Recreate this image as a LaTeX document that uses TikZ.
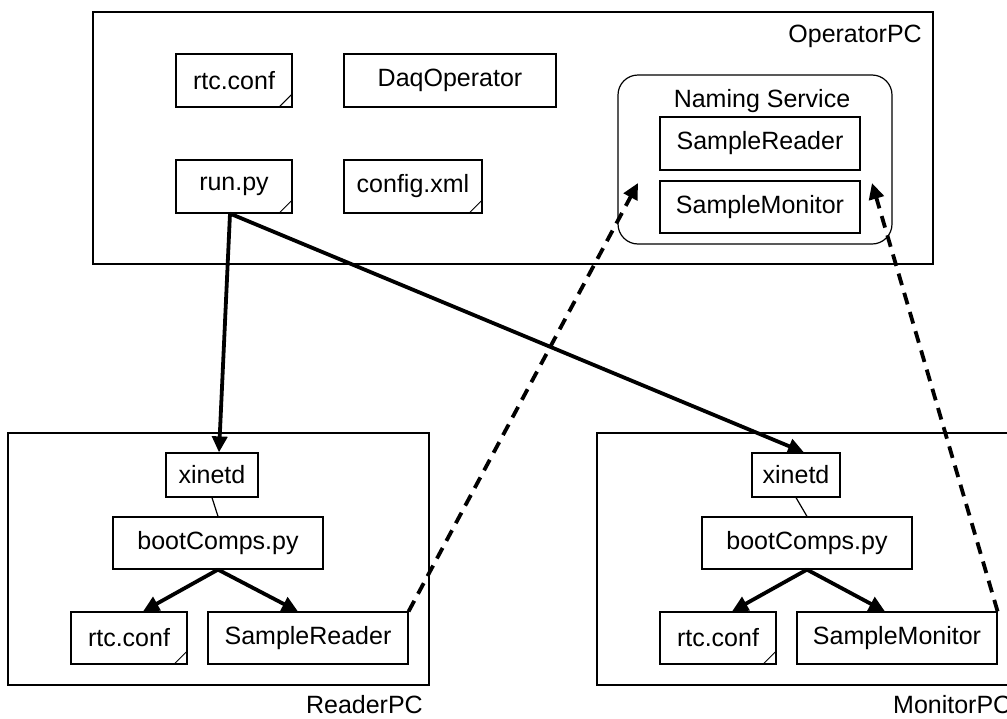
\documentclass[tikz,border=0pt]{standalone}
\usepackage{fontspec}
\setmainfont{Liberation Sans}
\usetikzlibrary{arrows.meta,calc}
\begin{document}
\begin{tikzpicture}[x=1pt,y=-1pt,
  box/.style={draw,line width=1.2pt,inner sep=0pt,font=\fontsize{25}{30}\selectfont},
  lbl/.style={inner sep=0pt,font=\fontsize{25}{30}\selectfont},
  thickarr/.style={line width=3.8pt,-{Triangle[length=16pt,width=15pt]}},
  dasharr/.style={line width=3.8pt,dash pattern=on 12pt off 8pt,-{Triangle[length=16pt,width=15pt]}},
  fold/.style={line width=1pt}]
\useasboundingbox (0,0) rectangle (1007,718);
\clip (0,0) rectangle (1007,718);
% OperatorPC
\node[box,minimum width=840,minimum height=252] (op) at (513,138) {};
\node[lbl,anchor=base east] (oplbl) at (922,42) {OperatorPC};
\node[box,minimum width=116,minimum height=53] (rtcop) at (234,80.5) {rtc.conf};
\node[box,minimum width=212,minimum height=53] (daq) at (450,80.5) {DaqOperator};
\node[box,minimum width=116,minimum height=53] (runpy) at (234,186.5) {run.py};
\node[box,minimum width=138,minimum height=53] (cfg) at (413,186.5) {config.xml};
\node[box,rounded corners=20pt,minimum width=274,minimum height=169] (ns) at (755,159.5) {};
\node[lbl] (nslbl) at (762,101) {Naming Service};
\node[box,minimum width=200,minimum height=53] (nsr) at (760,143.5) {SampleReader};
\node[box,minimum width=200,minimum height=52] (nsm) at (760,207) {SampleMonitor};
% ReaderPC
\node[box,minimum width=421,minimum height=252] (rpc) at (218.5,559) {};
\node[lbl,anchor=base east] (rpclbl) at (423,713) {ReaderPC};
\node[box,minimum width=92,minimum height=44] (rx) at (212,475) {xinetd};
\node[box,minimum width=210,minimum height=52] (rb) at (218,543) {bootComps.py};
\node[box,minimum width=116,minimum height=52] (rr) at (129,638) {rtc.conf};
\node[box,minimum width=200,minimum height=52] (rs) at (308,638) {SampleReader};
% MonitorPC
\node[box,minimum width=423,minimum height=252] (mpc) at (808.5,559) {};
\node[lbl,anchor=base west] (mpclbl) at (893,713) {MonitorPC};
\node[box,minimum width=88,minimum height=44] (mx) at (796,475) {xinetd};
\node[box,minimum width=210,minimum height=52] (mb) at (807,543) {bootComps.py};
\node[box,minimum width=116,minimum height=52] (mr) at (718,638) {rtc.conf};
\node[box,minimum width=200,minimum height=52] (ms) at (897,638) {SampleMonitor};
% folded corners
\foreach \n in {rtcop,runpy,cfg,rr,mr}{
  \draw[fold] ($(\n.south east)+(-14,0)$) -- ($(\n.south east)+(0,-14)$);
}
% thin links
\draw[line width=1.2pt] (rx.south) -- (rb.north);
\draw[line width=1.2pt] (mx.south) -- (mb.north);
% thick arrows
\draw[thickarr] ([xshift=-4pt]runpy.south) -- ([xshift=7pt]rx.north);
\draw[thickarr] ([xshift=-4pt]runpy.south) -- ([xshift=8pt]mx.north);
\draw[thickarr] (rb.south) -- ([xshift=14pt]rr.north);
\draw[thickarr] (rb.south) -- ([xshift=-10pt]rs.north);
\draw[thickarr] (mb.south) -- ([xshift=14pt]mr.north);
\draw[thickarr] (mb.south) -- ([xshift=-12pt]ms.north);
% dashed arrows
\coordinate (nsl) at (638,183);
\coordinate (nsrr) at (872,183);
\draw[dasharr] (rs.north east) -- (nsl);
\draw[dasharr] (ms.north east) -- (nsrr);
\end{tikzpicture}
\end{document}
